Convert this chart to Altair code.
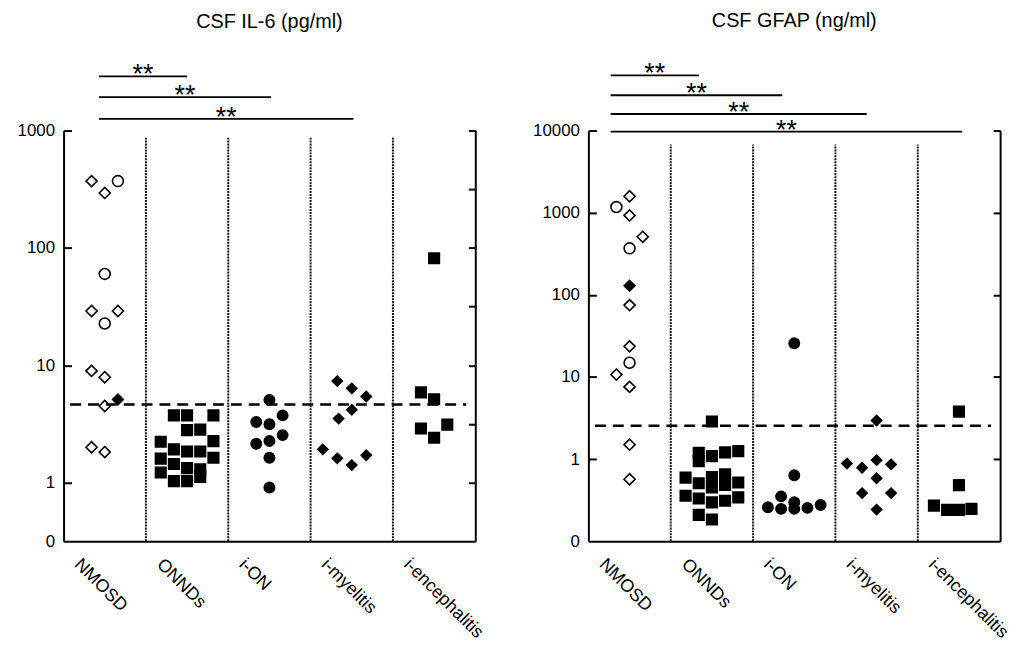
import json
import altair as alt
import pandas as pd

GROUPS = ["NMOSD", "ONNDs", "i-ON", "i-myelitis", "i-encephalitis"]
MARKERS = ["open_diamond", "open_circle", "filled_diamond", "square", "dot", "diamond"]
MARKER_SHAPES = ["diamond", "circle", "diamond", "square", "circle", "diamond"]
MARKER_FILLS = ["white", "white", "black", "black", "black", "black"]
MARKER_SIZES = [125, 105, 90, 50, 46, 85]

# ---------------- CSF IL-6 (pg/ml) ----------------
il6_nmosd = [371, 294, 371, 60, 29, 29, 22.7, 8.95, 7.9, 5.1, 4.5, 2.0, 1.82]
il6_nmosd_slot = [-1, 0, 1, 0, -1, 1, 0, -1, 0, 1, 0, -1, 0]
il6_nmosd_marker = ["open_diamond", "open_diamond", "open_circle", "open_circle", "open_diamond",
                    "open_diamond", "open_circle", "open_diamond", "open_diamond", "filled_diamond",
                    "open_diamond", "open_diamond", "open_diamond"]
il6_onnds = [3.74, 3.74, 3.74, 2.80, 2.83, 2.23, 2.26, 1.92, 1.84, 1.84, 1.60, 1.63,
             1.44, 1.33, 1.30, 1.12, 1.22, 1.03, 1.03]
il6_onnds_slot = [-1, 0, 2, 0, 1, -2, 2, -1, 0, 1, -2, 2, -1, 0, 1, 1, -2, -1, 0]
il6_ion = [5.07, 3.74, 3.28, 3.14, 2.54, 2.14, 2.26, 1.63, 0.91]
il6_ion_slot = [0, 1, -1, 0, 1, -1, 0, 0, 0]
il6_myel = [7.33, 6.35, 5.41, 4.18, 3.51, 1.92, 1.61, 1.41, 1.71]
il6_myel_slot = [-1.1, 0, 1.1, 0, -1, -2.2, -1.1, 0, 1.1]
il6_enc = [81.7, 5.88, 5.13, 2.89, 3.12, 2.41]
il6_enc_slot = [0, -1, 0, -1, 1, 0]
il6_cutoff = 4.63
il6_bracket_start = [-0.07, -0.07, -0.07]
il6_bracket_end = [1.0, 2.02, 3.02]
il6_bracket_y = [2900, 1930, 1260]
il6_left_ticks = [1000, 100, 10, 1]
il6_zero_label = [0.3162]
il6_right_ticks = [1000, 316.2, 100, 31.62, 10, 3.162, 1]
il6_axis_bottom = 0.3162
il6_axis_top = 1000
il6_separator_top = 870

# ---------------- CSF GFAP (ng/ml) ----------------
gfap_nmosd = [1585, 1172, 927, 509, 368, 129, 75, 23.6, 14.9, 10.7, 7.58, 1.50, 0.569]
gfap_nmosd_slot = [0, -1, 0, 1, 0, 0, 0, 0, 0, -1, 0, 0, 0]
gfap_nmosd_marker = ["open_diamond", "open_circle", "open_diamond", "open_diamond", "open_circle",
                     "filled_diamond", "open_diamond", "open_diamond", "open_circle", "open_diamond",
                     "open_diamond", "open_diamond", "open_diamond"]
gfap_onnds = [2.87, 1.19, 0.946, 1.09, 1.21, 1.25, 0.595, 0.509, 0.607, 0.452, 0.654, 0.486,
              0.519, 0.358, 0.332, 0.298, 0.312, 0.342, 0.21, 0.184]
gfap_onnds_slot = [0, -1, -1, 0, 1, 2, -2, -1, 0, 0, 1, 1, 2, -2, -1, 0, 1, 2, -1, 0]
gfap_ion = [25.7, 0.636, 0.352, 0.259, 0.248, 0.298, 0.248, 0.255, 0.277]
gfap_ion_slot = [0, 0, -1, -2, -1, 0, 0, 1, 2]
gfap_myel = [2.95, 0.887, 0.785, 0.972, 0.863, 0.585, 0.386, 0.386, 0.243]
gfap_myel_slot = [0, -2.25, -1.1, 0, 1.1, 0, -1.1, 1.1, 0]
gfap_enc = [3.79, 0.482, 0.272, 0.241, 0.241, 0.248]
gfap_enc_slot = [0, 0, -1.9, -0.9, 0, 0.95]
gfap_cutoff = 2.55
gfap_bracket_start = [-0.23, -0.23, -0.23, -0.23]
gfap_bracket_end = [0.84, 1.855, 2.88, 4.04]
gfap_bracket_y = [46900, 26900, 15900, 9700]
gfap_left_ticks = [10000, 1000, 100, 10, 1]
gfap_zero_label = [0.1]
gfap_right_ticks = [10000, 1000, 100, 10, 1]
gfap_axis_bottom = 0.1
gfap_axis_top = 10000
gfap_separator_top = 6770

SLOT_WIDTH = 0.16
FONT = "Liberation Sans"
W, H = 415, 414


def build_points(groups_data):
    rows = []
    for gi, (values, slots, markers) in enumerate(groups_data):
        for v, s, m in zip(values, slots, markers):
            rows.append({"x": gi + s * SLOT_WIDTH, "value": v, "marker": m, "group": GROUPS[gi]})
    return pd.DataFrame(rows)


def panel(points_df, title, cutoff, b_start, b_end, b_y, left_ticks, zero_label, right_ticks,
          y_bottom, y_top, sep_top):
    xscale = alt.Scale(domain=[-0.5, 4.5], nice=False, zero=False)
    yscale = alt.Scale(type="log", domain=[y_bottom, y_top], nice=False)
    label_expr = json.dumps(GROUPS) + "[round(datum.value)]"
    x_axis = alt.Axis(
        values=[0, 1, 2, 3, 4], labelExpr=label_expr, ticks=False, title=None, grid=False,
        labelAngle=45, labelAlign="left", labelBaseline="top", labelFontSize=18,
        labelPadding=14, labelOffset=-22, domainWidth=2, labelOverlap=False, labelFlush=False,
        labelBound=False)

    # main left axis: labels only + domain line
    pts = alt.Chart(points_df).mark_point(filled=True, stroke="black", strokeWidth=1.6, opacity=1).encode(
        x=alt.X("x:Q", scale=xscale, axis=x_axis),
        y=alt.Y("value:Q", scale=yscale, axis=alt.Axis(
            orient="left", values=left_ticks + zero_label, title=None, grid=False, ticks=False,
            labelExpr="datum.value < 0.5 ? '0' : format(datum.value, '.0f')",
            domainWidth=2, labelFontSize=17, labelPadding=9)),
        shape=alt.Shape("marker:N", scale=alt.Scale(domain=MARKERS, range=MARKER_SHAPES), legend=None),
        fill=alt.Fill("marker:N", scale=alt.Scale(domain=MARKERS, range=MARKER_FILLS), legend=None),
        size=alt.Size("marker:O", scale=alt.Scale(domain=MARKERS, range=MARKER_SIZES), legend=None),
    )

    # inward ticks on the left edge
    sep_df = pd.DataFrame({"x": [0.5, 1.5, 2.5, 3.5], "y": [y_bottom] * 4, "y2": [sep_top] * 4})
    separators = alt.Chart(sep_df).mark_rule(strokeDash=[2, 1], strokeWidth=2, color="#111111").encode(
        x=alt.X("x:Q", scale=xscale, axis=x_axis),
        y=alt.Y("y:Q", scale=yscale, axis=alt.Axis(
            orient="right", offset=-W, values=left_ticks, labels=False, title=None, grid=False,
            domain=False, tickSize=8, tickWidth=2)),
        y2="y2:Q",
    )

    # inward ticks on the right edge
    cut_df = pd.DataFrame({"x": [-0.42], "x2": [4.39], "y": [cutoff]})
    cut = alt.Chart(cut_df).mark_rule(strokeDash=[11, 7], strokeWidth=2.5, color="black").encode(
        x=alt.X("x:Q", scale=xscale, axis=x_axis),
        x2="x2:Q",
        y=alt.Y("y:Q", scale=yscale, axis=alt.Axis(
            orient="left", offset=-W, values=right_ticks, labels=False, title=None, grid=False,
            domain=False, tickSize=7, tickWidth=2)),
    )

    # right border line
    br_df = pd.DataFrame({"x": b_start, "x2": b_end, "y": b_y})
    br_df["mid"] = (br_df["x"] + br_df["x2"]) / 2
    brackets = alt.Chart(br_df).mark_rule(strokeWidth=1.8, color="black").encode(
        x=alt.X("x:Q", scale=xscale, axis=x_axis),
        x2="x2:Q",
        y=alt.Y("y:Q", scale=yscale, axis=alt.Axis(
            orient="right", labels=False, ticks=False, title=None, grid=False, domainWidth=2)),
    )
    stars = alt.Chart(br_df).mark_text(text="**", fontSize=27, font=FONT, baseline="alphabetic",
                                       dy=7, color="black").encode(
        x=alt.X("mid:Q", scale=xscale, axis=x_axis),
        y=alt.Y("y:Q", scale=yscale, axis=None),
    )

    return alt.layer(pts, separators, cut, brackets, stars).resolve_axis(y="independent").properties(
        width=W, height=H,
        title=alt.TitleParams(title, fontSize=20, font=FONT, fontWeight="normal", color="black",
                              anchor="middle", offset=26, dy=-4),
    )


il6_df = build_points([
    (il6_nmosd, il6_nmosd_slot, il6_nmosd_marker),
    (il6_onnds, il6_onnds_slot, ["square"] * len(il6_onnds)),
    (il6_ion, il6_ion_slot, ["dot"] * len(il6_ion)),
    (il6_myel, il6_myel_slot, ["diamond"] * len(il6_myel)),
    (il6_enc, il6_enc_slot, ["square"] * len(il6_enc)),
])
gfap_df = build_points([
    (gfap_nmosd, gfap_nmosd_slot, gfap_nmosd_marker),
    (gfap_onnds, gfap_onnds_slot, ["square"] * len(gfap_onnds)),
    (gfap_ion, gfap_ion_slot, ["dot"] * len(gfap_ion)),
    (gfap_myel, gfap_myel_slot, ["diamond"] * len(gfap_myel)),
    (gfap_enc, gfap_enc_slot, ["square"] * len(gfap_enc)),
])

left = panel(il6_df, "CSF IL-6 (pg/ml)", il6_cutoff, il6_bracket_start, il6_bracket_end, il6_bracket_y,
             il6_left_ticks, il6_zero_label, il6_right_ticks, il6_axis_bottom, il6_axis_top,
             il6_separator_top)
right = panel(gfap_df, "CSF GFAP (ng/ml)", gfap_cutoff, gfap_bracket_start, gfap_bracket_end,
              gfap_bracket_y, gfap_left_ticks, gfap_zero_label, gfap_right_ticks, gfap_axis_bottom,
              gfap_axis_top, gfap_separator_top)

chart = alt.hconcat(left, right, spacing=46).properties(
    padding={"left": 9, "top": 0, "right": 5, "bottom": 0}
).configure(background="white").configure_view(strokeWidth=0).configure_axis(
    labelFont=FONT, labelColor="black", domainColor="black", tickColor="black", grid=False
)

chart.save("out.html", embed_options={"renderer": "svg", "actions": False})
